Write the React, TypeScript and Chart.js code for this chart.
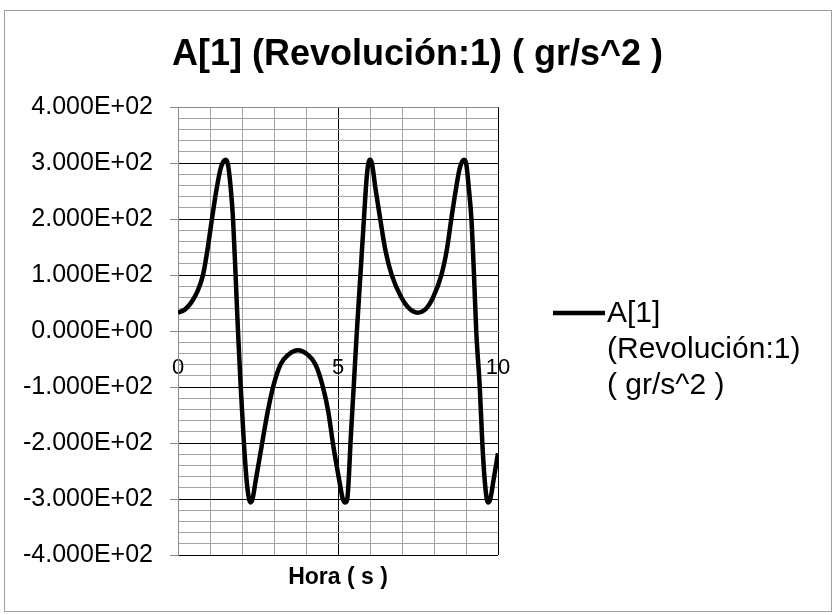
import React, { useEffect, useRef } from "react";
import { Chart, registerables } from "chart.js";

Chart.register(...registerables);

const CHART_TITLE = "A[1] (Revolución:1) ( gr/s^2 )";
const SERIES_LABEL = ["A[1]", "(Revolución:1)", "( gr/s^2 )"];
const X_TITLE = "Hora ( s )";

const TIME = [
  0, 0.2, 0.4, 0.6, 0.78, 0.92, 1.06, 1.2, 1.33, 1.42, 1.49, 1.56, 1.64, 1.72, 1.8, 1.875, 1.96, 2.06,
  2.15, 2.22, 2.27, 2.33, 2.42, 2.63, 2.8, 2.97, 3.2, 3.45, 3.75, 4.05, 4.3, 4.53, 4.7, 4.84, 5.05,
  5.15, 5.23, 5.29, 5.34, 5.39, 5.49, 5.59, 5.7, 5.81, 5.89, 5.95, 6.0, 6.06, 6.17, 6.32, 6.48, 6.68,
  6.98, 7.2, 7.48, 7.75, 7.97, 8.23, 8.4, 8.54, 8.68, 8.8, 8.88, 8.94, 9.01, 9.08, 9.17, 9.25, 9.32,
  9.43, 9.51, 9.59, 9.65, 9.7, 9.76, 9.85, 10,
];

const ACCEL = [
  33, 38, 50, 70, 100, 145, 200, 252, 290, 303, 306, 298, 260, 200, 100, 0, -100, -200,
  -270, -300, -306, -300, -270, -200, -145, -100, -60, -42, -34, -42, -60, -100, -145, -200, -270,
  -300, -306, -300, -260, -200, -100, 0, 100, 200, 270, 300, 306, 300, 255, 200, 145, 100,
  60, 42, 33, 40, 60, 100, 145, 200, 252, 290, 303, 306, 298, 260, 200, 100, 0,
  -100, -200, -270, -300, -306, -300, -270, -218,
];

const Y_TICK_VALUES = [-400, -300, -200, -100, 0, 100, 200, 300, 400];
const Y_TICK_LABELS = [
  "-4.000E+02", "-3.000E+02", "-2.000E+02", "-1.000E+02", "0.000E+00",
  "1.000E+02", "2.000E+02", "3.000E+02", "4.000E+02",
];
const X_TICK_VALUES = [0, 5, 10];
const X_TICK_LABELS = ["0", "5", "10"];

const FONT = "'Liberation Sans', Arial, sans-serif";
const MINOR = "#a3a3a3";
const MAJOR = "#000000";
const AXIS = "#8c8c8c";

const framePlugin = {
  id: "frame",
  beforeDraw(chart: any) {
    const ctx = chart.ctx;
    ctx.save();
    ctx.fillStyle = "#ffffff";
    ctx.fillRect(0, 0, chart.width, chart.height);
    ctx.strokeStyle = "#a0a0a0";
    ctx.lineWidth = 1;
    ctx.strokeRect(4.5, 10.5, 827, 601);
    ctx.restore();
  },
};

const legendPlugin = {
  id: "sideLegend",
  afterDraw(chart: any) {
    const ctx = chart.ctx;
    ctx.save();
    ctx.strokeStyle = "#000";
    ctx.lineWidth = 4.5;
    ctx.beginPath();
    ctx.moveTo(553, 313);
    ctx.lineTo(605, 313);
    ctx.stroke();
    ctx.fillStyle = "#000";
    ctx.font = `30px ${FONT}`;
    ctx.textBaseline = "middle";
    ctx.textAlign = "left";
    SERIES_LABEL.forEach((line, i) => {
      ctx.fillText(line, 607, 314 + i * 36);
    });
    ctx.restore();
  },
};

export default function App() {
  const ref = useRef<HTMLCanvasElement | null>(null);

  useEffect(() => {
    if (!ref.current) return;
    const points = TIME.map((t, i) => ({ x: t, y: ACCEL[i] }));
    const chart = new Chart(ref.current, {
      type: "line",
      data: {
        datasets: [
          {
            label: SERIES_LABEL.join(" "),
            data: points,
            borderColor: "#000",
            borderWidth: 4.5,
            pointRadius: 0,
            cubicInterpolationMode: "monotone",
            fill: false,
          },
        ],
      },
      options: {
        animation: false,
        responsive: false,
        devicePixelRatio: 1,
        layout: { padding: 0 },
        plugins: {
          legend: { display: false },
          tooltip: { enabled: false },
          title: {
            display: true,
            text: CHART_TITLE,
            color: "#000",
            font: { family: FONT, size: 36, weight: "bold" },
            padding: { top: 33, bottom: 31 },
          },
        },
        scales: {
          x: {
            type: "linear",
            min: 0,
            max: 10,
            position: { y: 0 },
            afterFit: (s: any) => {
              s.height = 0;
            },
            border: { display: true, color: AXIS, width: 1 },
            grid: {
              drawTicks: false,
              lineWidth: 1,
              color: (c: any) => {
                const v = Math.round(c.tick?.value ?? 0);
                return v === 5 || v === 10 ? MAJOR : MINOR;
              },
            },
            ticks: {
              stepSize: 1,
              autoSkip: false,
              maxRotation: 0,
              padding: 24,
              color: "#000",
              font: { family: FONT, size: 22 },
              callback: (v: any) => {
                const idx = X_TICK_VALUES.indexOf(Math.round(Number(v) * 1000) / 1000);
                return idx >= 0 ? X_TICK_LABELS[idx] : "";
              },
            },
          },
          x2: {
            type: "linear",
            axis: "x",
            min: 0,
            max: 10,
            position: "bottom",
            afterFit: (s: any) => {
              s.height = 60;
            },
            border: { display: false },
            grid: { display: false },
            ticks: { display: false },
            title: {
              display: true,
              text: X_TITLE,
              color: "#000",
              font: { family: FONT, size: 23, weight: "bold" },
              padding: { top: 0, bottom: 24 },
            },
          },
          y: {
            type: "linear",
            min: -400,
            max: 400,
            position: "left",
            afterFit: (s: any) => {
              s.width = 178;
            },
            border: { display: true, color: AXIS, width: 1 },
            grid: {
              lineWidth: 1,
              drawTicks: true,
              tickLength: 8,
              color: (c: any) => {
                const v = Math.round(c.tick?.value ?? 0);
                if (v === 0 || v === 400) return AXIS;
                return v % 100 === 0 ? MAJOR : MINOR;
              },
              tickColor: (c: any) => {
                const v = Math.round(c.tick?.value ?? 0);
                return v % 100 === 0 ? AXIS : "rgba(0,0,0,0)";
              },
            },
            ticks: {
              stepSize: 20,
              autoSkip: false,
              padding: 17,
              color: "#000",
              font: { family: FONT, size: 25 },
              callback: (v: any) => {
                const idx = Y_TICK_VALUES.indexOf(Math.round(Number(v)));
                return idx >= 0 ? Y_TICK_LABELS[idx] : "";
              },
            },
          },
          yLegendSpace: {
            type: "linear",
            axis: "y",
            min: -400,
            max: 400,
            position: "right",
            afterFit: (s: any) => {
              s.width = 337;
            },
            border: { display: false },
            grid: { display: false },
            ticks: { display: false },
          },
        },
      } as any,
      plugins: [framePlugin, legendPlugin],
    });
    return () => chart.destroy();
  }, []);

  return (
    <div style={{ position: "absolute", left: 0, top: 0, width: 835, height: 615 }}>
      <canvas ref={ref} width={835} height={615} style={{ width: 835, height: 615, display: "block" }} />
    </div>
  );
}
